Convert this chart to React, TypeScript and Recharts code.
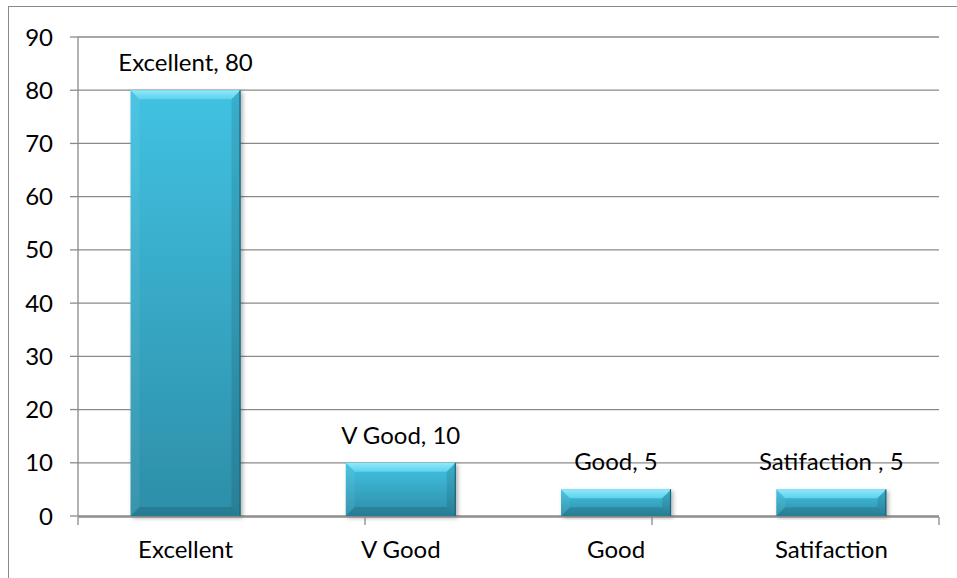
import React from 'react';
import { Bar, BarChart, CartesianGrid, LabelList, XAxis, YAxis } from 'recharts';

// Ratings distribution.
const categories = ['Excellent', 'V Good', 'Good', 'Satifaction '];
const counts = [80, 10, 5, 5];
const yTicks = [0, 10, 20, 30, 40, 50, 60, 70, 80, 90];
const edgeTicks = [0, 1, 2, 3, 4];

const data = categories.map((name, i) => ({ name, value: counts[i] }));

const FONT = 'Lato, "Open Sans", sans-serif';
const LINE = '#8a8a8a';
const FS = 24;

function BevelBar(props: any) {
  const { x, y, width: w, height: h } = props;
  if (!h || h <= 0) return null;
  const b = Math.min(9, h / 3, w / 3);
  return (
    <g filter="url(#barShadow)">
      <rect x={x} y={y} width={w} height={h} fill="url(#barFace)" />
      <polygon
        points={`${x},${y} ${x + w},${y} ${x + w - b},${y + b} ${x + b},${y + b}`}
        fill="url(#barTop)"
      />
      <polygon
        points={`${x},${y} ${x + b},${y + b} ${x + b},${y + h - b} ${x},${y + h}`}
        fill="#ffffff"
        fillOpacity={0.06}
      />
      <polygon
        points={`${x + w},${y} ${x + w},${y + h} ${x + w - b},${y + h - b} ${x + w - b},${y + b}`}
        fill="#000000"
        fillOpacity={0.1}
      />
      <polygon
        points={`${x},${y + h} ${x + w},${y + h} ${x + w - b},${y + h - b} ${x + b},${y + h - b}`}
        fill="#000000"
        fillOpacity={0.12}
      />
      <line x1={x + w - 0.5} y1={y} x2={x + w - 0.5} y2={y + h} stroke="#1c6377" strokeWidth={1.2} />
    </g>
  );
}

function BarCaption(props: any) {
  const { x, y, width, value, index } = props;
  return (
    <text x={x + width / 2} y={y - 19} textAnchor="middle" fontFamily={FONT} fontSize={FS} fill="#000">
      {`${categories[index]}, ${value}`}
    </text>
  );
}

function CategoryTick(props: any) {
  const { x, y, payload } = props;
  return (
    <text x={x} y={y + 42} textAnchor="middle" fontFamily={FONT} fontSize={FS} fill="#000">
      {String(payload.value).trim()}
    </text>
  );
}

function EdgeTick(props: any) {
  const { x, y } = props;
  return <line x1={x} y1={y} x2={x} y2={y + 8} stroke={LINE} strokeWidth={1.3} />;
}

export default function App() {
  return (
    <div style={{ position: 'absolute', left: 0, top: 0, width: 957, height: 578, overflow: 'hidden', background: '#fff' }}>
      <div
        style={{
          position: 'absolute',
          left: 8,
          top: 6,
          width: 1000,
          height: 1000,
          borderLeft: `1.5px solid ${LINE}`,
          borderTop: `1.5px solid ${LINE}`,
        }}
      />
      <div style={{ position: 'absolute', left: 0, top: 0 }}>
        <BarChart
          width={957}
          height={578}
          data={data}
          margin={{ top: 37, right: 18, bottom: 60, left: 8 }}
          barCategoryGap="24.4%"
        >
          <defs>
            <linearGradient id="barFace" x1="0" y1="0" x2="0" y2="1">
              <stop offset="0%" stopColor="#41c2e2" />
              <stop offset="100%" stopColor="#2d8ea8" />
            </linearGradient>
            <linearGradient id="barTop" x1="0" y1="0" x2="0" y2="1">
              <stop offset="0%" stopColor="#8fe8fa" />
              <stop offset="100%" stopColor="#5dd2ec" />
            </linearGradient>
            <filter id="barShadow" x="-10%" y="-10%" width="125%" height="125%">
              <feDropShadow dx="2" dy="2" stdDeviation="2" floodColor="#000" floodOpacity="0.3" />
            </filter>
          </defs>
          <CartesianGrid horizontal vertical={false} stroke={LINE} strokeWidth={1.3} />
          <XAxis
            xAxisId="edges"
            type="number"
            domain={[0, 4]}
            ticks={edgeTicks}
            interval={0}
            height={1}
            tickSize={0}
            tickMargin={0}
            tickLine={false}
            tick={<EdgeTick />}
            axisLine={{ stroke: LINE, strokeWidth: 1.3 }}
            allowDataOverflow
          />
          <XAxis
            dataKey="name"
            height={1}
            tickLine={false}
            axisLine={false}
            tickSize={0}
            tickMargin={0}
            tick={<CategoryTick />}
            interval={0}
          />
          <YAxis
            width={70}
            domain={[0, 90]}
            ticks={yTicks}
            interval={0}
            tickSize={8}
            tickMargin={17}
            tick={{ fill: '#000', fontSize: FS, fontFamily: FONT }}
            tickLine={{ stroke: LINE, strokeWidth: 1.3 }}
            axisLine={{ stroke: LINE, strokeWidth: 1.3 }}
          />
          <Bar dataKey="value" shape={<BevelBar />} isAnimationActive={false}>
            <LabelList dataKey="value" content={<BarCaption />} />
          </Bar>
        </BarChart>
      </div>
    </div>
  );
}
